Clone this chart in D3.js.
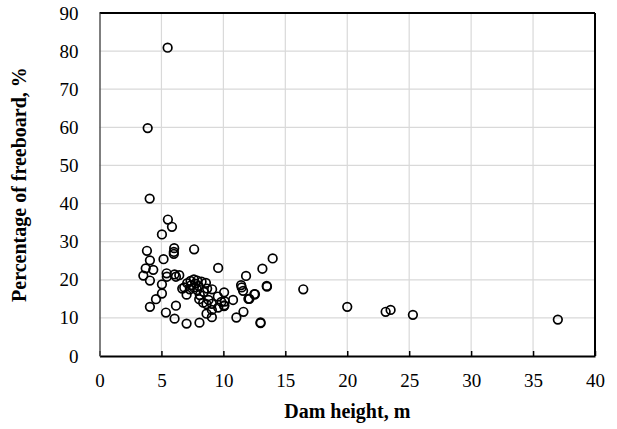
<!DOCTYPE html>
<html>
<head>
<meta charset="utf-8">
<script src="https://cdn.jsdelivr.net/npm/d3@7"></script>
<style>
  html, body { margin: 0; padding: 0; background: #fff; }
  svg { display: block; }
  text { font-family: "Liberation Serif", "Times New Roman", serif; fill: #000; }
</style>
</head>
<body>
<svg id="chart" width="617" height="429"></svg>
<script>
// Dam height (m) and freeboard share (%) for each surveyed dam
const damHeight = [
  5.5, 3.89, 4.05, 5.52, 5.85, 5.04, 3.83, 6.03, 6.0, 6.0, 7.64,
  4.07, 5.17, 3.73, 4.34, 3.54, 4.07, 5.42, 5.44, 6.06, 6.44, 6.17,
  9.58, 13.98, 13.15, 11.83, 13.52, 5.04, 5.04, 4.56, 4.07, 6.17, 5.36,
  6.06, 7.03, 8.07, 9.07, 8.64, 11.05, 11.62, 13.0, 13.0, 12.02, 12.5,
  11.43, 11.48, 11.59, 10.78, 10.06, 10.11, 10.06, 12.55, 12.1, 13.5,
  16.45, 20.0, 23.1, 23.5, 25.3, 37.0,
  6.84, 7.08, 7.35, 7.62, 7.89, 8.24, 8.59, 7.03, 7.29, 7.62, 7.89,
  8.1, 8.42, 8.69, 9.09, 8.05, 8.37, 8.8, 9.07, 9.55, 9.84, 10.08,
  9.58, 9.07, 8.64, 6.68, 7.4, 7.75, 8.0
];
const freeboardPct = [
  80.9, 59.8, 41.3, 35.8, 33.9, 31.9, 27.6, 28.3, 26.8, 27.3, 28.0,
  25.1, 25.4, 23.0, 22.6, 21.1, 19.8, 21.7, 20.8, 21.4, 21.2, 20.8,
  23.1, 25.6, 22.9, 21.0, 18.2, 18.8, 16.4, 14.9, 12.9, 13.2, 11.4,
  9.8, 8.5, 8.75, 10.2, 11.1, 10.1, 11.6, 8.8, 8.6, 15.0, 16.2,
  18.6, 18.0, 17.1, 14.7, 16.7, 14.3, 13.1, 16.2, 15.0, 18.4,
  17.5, 12.9, 11.6, 12.1, 10.8, 9.55,
  18.0, 19.1, 19.7, 20.1, 19.8, 19.5, 19.2, 16.1, 17.5, 18.0, 17.3,
  16.0, 16.8, 17.7, 17.5, 14.9, 14.0, 14.7, 13.7, 15.6, 14.2, 13.3,
  12.7, 12.1, 13.6, 17.7, 18.6, 19.0, 18.4
];
const xTicks = [0, 5, 10, 15, 20, 25, 30, 35, 40];
const yTicks = [0, 10, 20, 30, 40, 50, 60, 70, 80, 90];
const xTitle = "Dam height, m";
const yTitle = "Percentage of freeboard, %";

const points = damHeight.map((h, i) => ({ h, p: freeboardPct[i] }));

const svg = d3.select("#chart");
const m = { left: 99.5, right: 595, top: 13, bottom: 356 };

const x = d3.scaleLinear().domain([0, 40]).range([m.left, m.right]);
const y = d3.scaleLinear().domain([0, 90]).range([m.bottom, m.top]);

// light grid
const grid = svg.append("g");
grid.selectAll("line.v").data(xTicks.slice(1, -1)).join("line")
  .attr("x1", d => x(d)).attr("x2", d => x(d))
  .attr("y1", m.top).attr("y2", m.bottom)
  .attr("stroke", "#d9d9d9").attr("stroke-width", 1.2);
grid.selectAll("line.h").data(yTicks.slice(1, -1)).join("line")
  .attr("x1", m.left).attr("x2", m.right)
  .attr("y1", d => y(d)).attr("y2", d => y(d))
  .attr("stroke", "#d9d9d9").attr("stroke-width", 1.2);

// frame: top and right borders
svg.append("line").attr("x1", m.left).attr("x2", m.right)
  .attr("y1", m.top).attr("y2", m.top).attr("stroke", "#000").attr("stroke-width", 2);
svg.append("line").attr("x1", m.right).attr("x2", m.right)
  .attr("y1", m.top).attr("y2", m.bottom).attr("stroke", "#000").attr("stroke-width", 2);

// x axis with inward ticks
const xAxis = svg.append("g").attr("transform", `translate(0,${m.bottom})`)
  .call(d3.axisBottom(x).tickValues(xTicks).tickSizeInner(-5).tickSizeOuter(0).tickPadding(18));
xAxis.select(".domain").attr("stroke", "#000").attr("stroke-width", 2);
xAxis.selectAll(".tick line").attr("stroke", "#000").attr("stroke-width", 1.5);
xAxis.selectAll("text").attr("font-size", 19).attr("font-family", "Liberation Serif");

// y axis
const yAxis = svg.append("g").attr("transform", `translate(${m.left},0)`)
  .call(d3.axisLeft(y).tickValues(yTicks).tickSize(0).tickPadding(21));
yAxis.select(".domain").attr("stroke", "#555").attr("stroke-width", 1.5);
yAxis.selectAll("text").attr("font-size", 19).attr("font-family", "Liberation Serif");

// markers
svg.append("g").selectAll("circle").data(points).join("circle")
  .attr("cx", d => x(d.h)).attr("cy", d => y(d.p))
  .attr("r", 4.3).attr("fill", "none")
  .attr("stroke", "#000").attr("stroke-width", 1.7);

// axis titles
svg.append("text").attr("x", (m.left + m.right) / 2).attr("y", 418)
  .attr("text-anchor", "middle").attr("font-size", 20).attr("font-weight", "bold")
  .text(xTitle);
svg.append("text").attr("transform", `translate(26,${(m.top + m.bottom) / 2}) rotate(-90)`)
  .attr("text-anchor", "middle").attr("font-size", 20).attr("font-weight", "bold")
  .text(yTitle);
</script>
</body>
</html>
